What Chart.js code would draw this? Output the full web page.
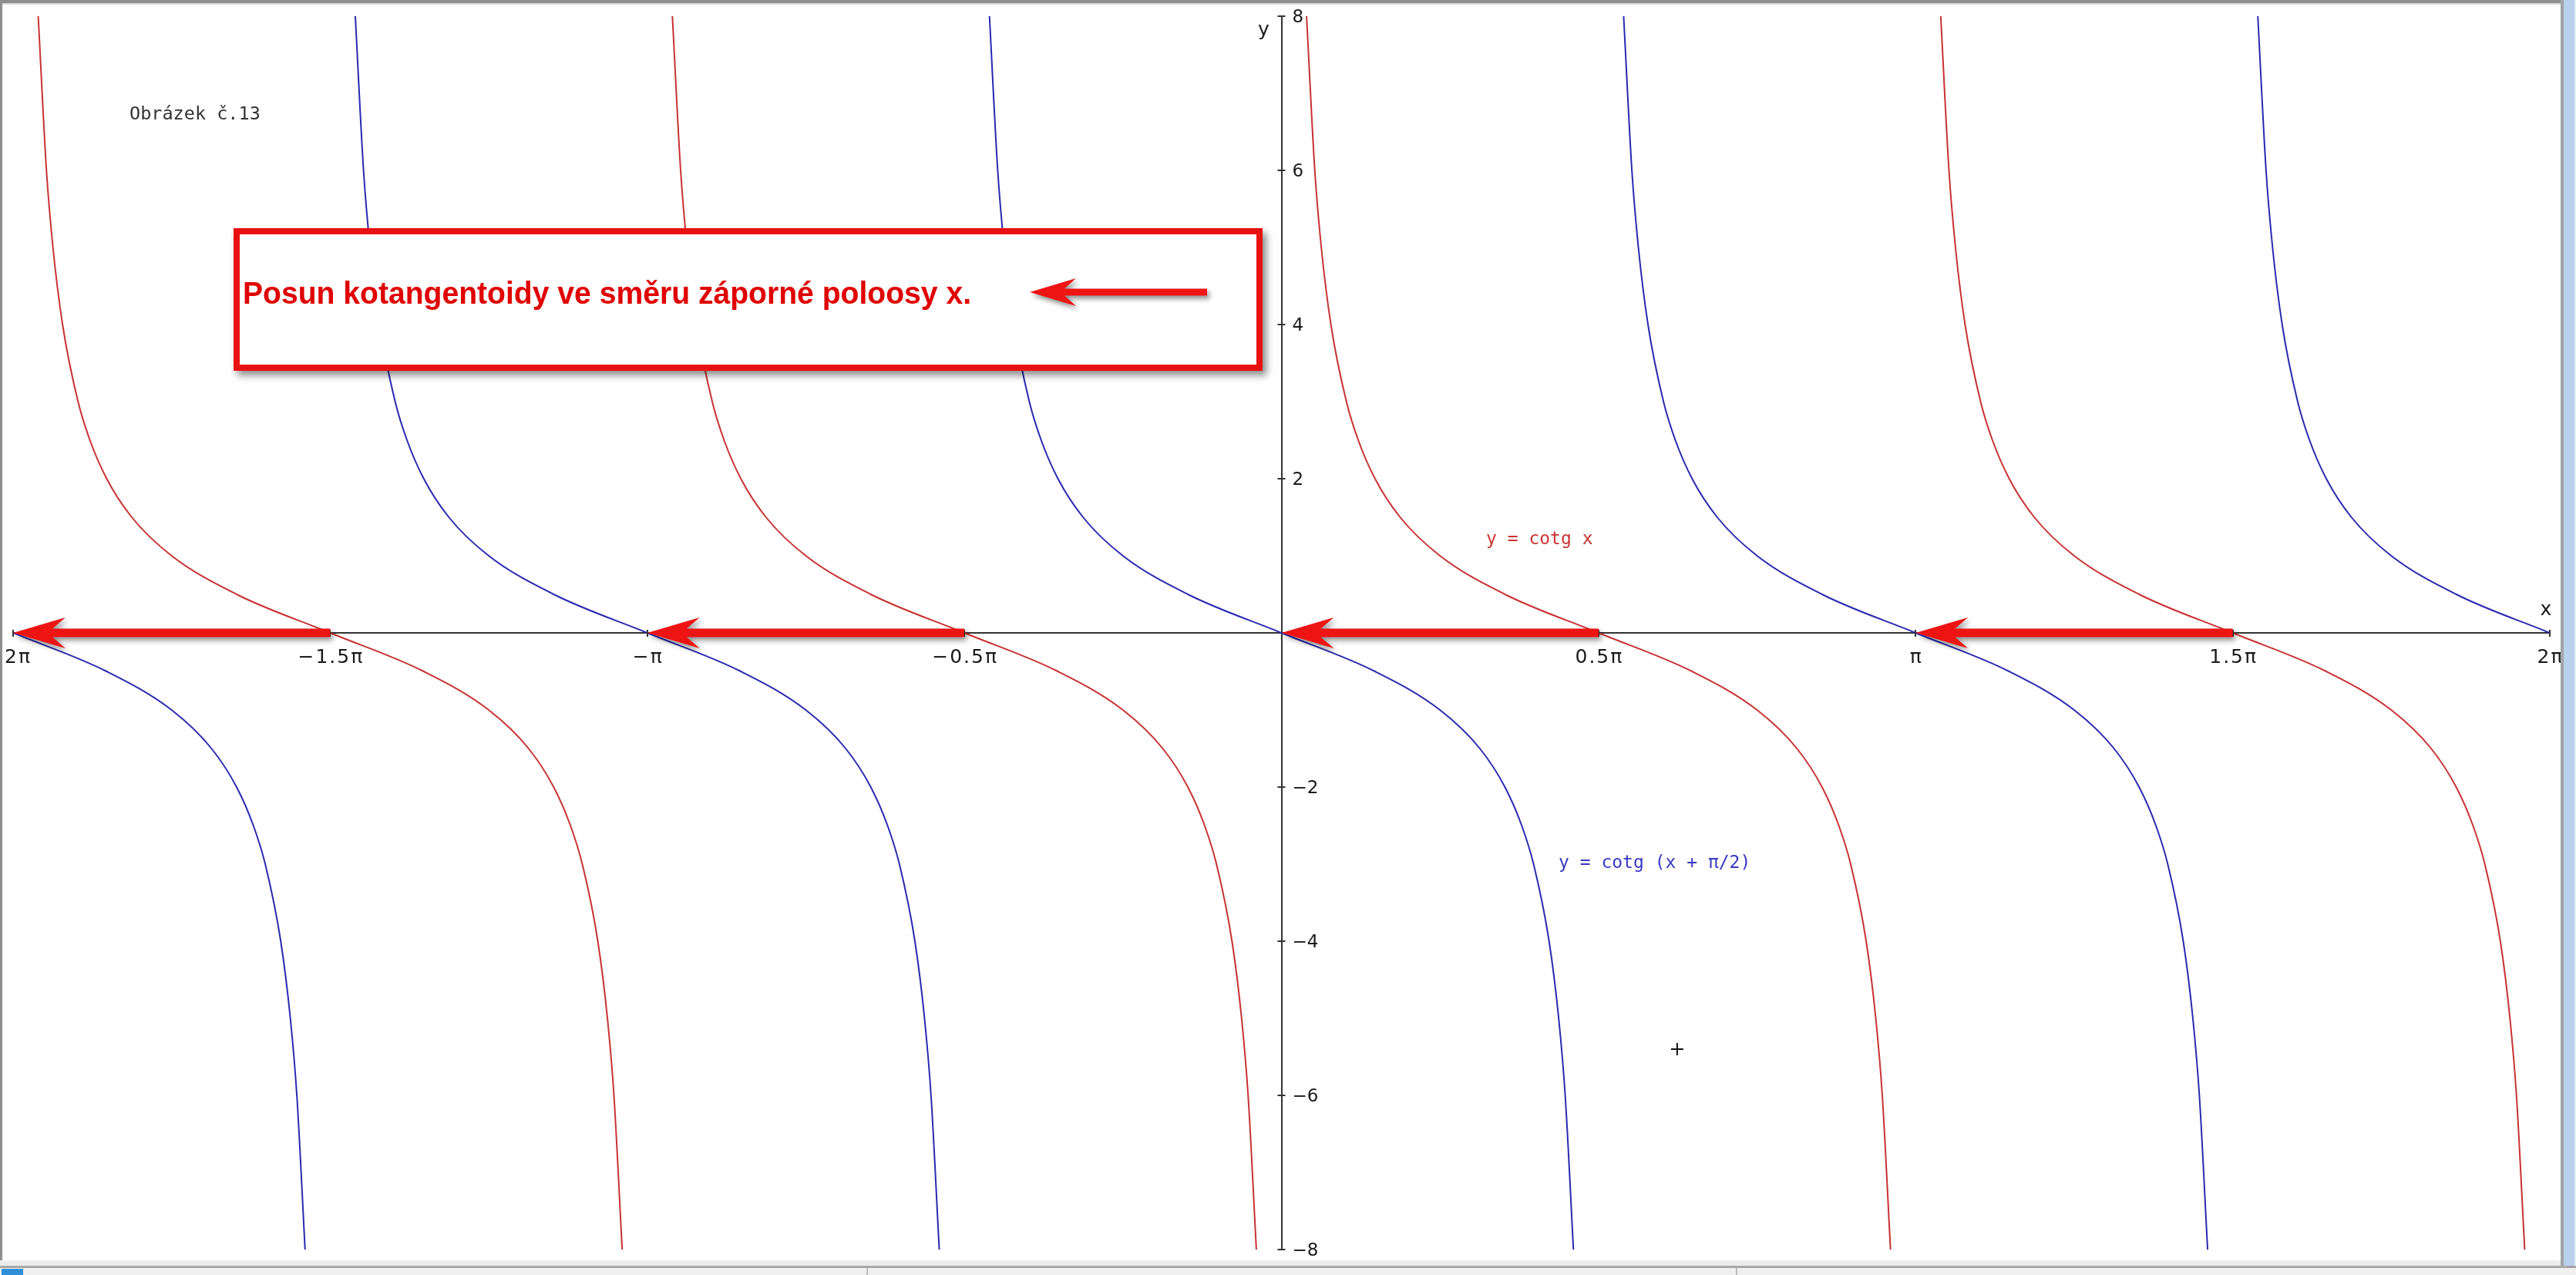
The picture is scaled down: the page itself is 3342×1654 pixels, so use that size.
<!DOCTYPE html>
<html><head><meta charset="utf-8">
<script src="https://cdn.jsdelivr.net/npm/chart.js@4.4.1/dist/chart.umd.min.js"></script>
<style>
html,body{margin:0;padding:0;background:#fff;overflow:hidden;}
#wrap{position:relative;width:3342px;height:1654px;background:#fff;}
#c{position:absolute;left:0;top:0;}
.fr{position:absolute;}
</style></head><body>
<div id="wrap">
<canvas id="c" width="3342" height="1654"></canvas>
<div class="fr" style="left:0;top:0;width:3342px;height:4px;background:#8e8e8e"></div>
<div class="fr" style="left:0;top:4px;width:3322px;height:2px;background:#d8d8d8"></div>
<div class="fr" style="left:0;top:0;width:3px;height:1635px;background:#8e8e8e"></div>
<div class="fr" style="left:3322px;top:0;width:4px;height:1642px;background:#a4a4a4"></div>
<div class="fr" style="left:3326px;top:0;width:14px;height:1642px;background:#b9d1ec"></div>
<div class="fr" style="left:3340px;top:0;width:2px;height:1642px;background:#e2eef8"></div>
<div class="fr" style="left:0;top:1635px;width:3322px;height:7px;background:#ececec"></div>
<div class="fr" style="left:0;top:1642px;width:3342px;height:3px;background:#a8a8a8"></div>
<div class="fr" style="left:0;top:1645px;width:3342px;height:9px;background:#f0f0f0"></div>
<div class="fr" style="left:1124px;top:1645px;width:2px;height:9px;background:#bcbcbc"></div>
<div class="fr" style="left:2252px;top:1645px;width:2px;height:9px;background:#bcbcbc"></div>
<div class="fr" style="left:2px;top:1646px;width:28px;height:8px;background:#2f8fd8"></div>
</div>
<script>
// ---- data (x in multiples of π) ----
const redX = [
 -1.96041,-1.94743,-1.93717,-1.92202,-1.89758,-1.87888,-1.85242,-1.81283,-1.75,-1.64758,-1.5,-1.35242,-1.25,-1.18717,-1.14758,-1.12112,-1.10242,-1.07798,-1.06283,-1.05257,-1.03959,
 -1,
 -0.96041,-0.94743,-0.93717,-0.92202,-0.89758,-0.87888,-0.85242,-0.81283,-0.75,-0.64758,-0.5,-0.35242,-0.25,-0.18717,-0.14758,-0.12112,-0.10242,-0.07798,-0.06283,-0.05257,-0.03959,
 0,
 0.03959,0.05257,0.06283,0.07798,0.10242,0.12112,0.14758,0.18717,0.25,0.35242,0.5,0.64758,0.75,0.81283,0.85242,0.87888,0.89758,0.92202,0.93717,0.94743,0.96041,
 1,
 1.03959,1.05257,1.06283,1.07798,1.10242,1.12112,1.14758,1.18717,1.25,1.35242,1.5,1.64758,1.75,1.81283,1.85242,1.87888,1.89758,1.92202,1.93717,1.94743,1.96041
];
const redY = [
 8,6,5,4,3,2.5,2,1.5,1,0.5,0,-0.5,-1,-1.5,-2,-2.5,-3,-4,-5,-6,-8,
 null,
 8,6,5,4,3,2.5,2,1.5,1,0.5,0,-0.5,-1,-1.5,-2,-2.5,-3,-4,-5,-6,-8,
 null,
 8,6,5,4,3,2.5,2,1.5,1,0.5,0,-0.5,-1,-1.5,-2,-2.5,-3,-4,-5,-6,-8,
 null,
 8,6,5,4,3,2.5,2,1.5,1,0.5,0,-0.5,-1,-1.5,-2,-2.5,-3,-4,-5,-6,-8
];
const blueX = [
 -2,-1.85242,-1.75,-1.68717,-1.64758,-1.62112,-1.60242,-1.57798,-1.56283,-1.55257,-1.53959,
 -1.5,
 -1.46041,-1.44743,-1.43717,-1.42202,-1.39758,-1.37888,-1.35242,-1.31283,-1.25,-1.14758,-1,-0.85242,-0.75,-0.68717,-0.64758,-0.62112,-0.60242,-0.57798,-0.56283,-0.55257,-0.53959,
 -0.5,
 -0.46041,-0.44743,-0.43717,-0.42202,-0.39758,-0.37888,-0.35242,-0.31283,-0.25,-0.14758,0,0.14758,0.25,0.31283,0.35242,0.37888,0.39758,0.42202,0.43717,0.44743,0.46041,
 0.5,
 0.53959,0.55257,0.56283,0.57798,0.60242,0.62112,0.64758,0.68717,0.75,0.85242,1,1.14758,1.25,1.31283,1.35242,1.37888,1.39758,1.42202,1.43717,1.44743,1.46041,
 1.5,
 1.53959,1.55257,1.56283,1.57798,1.60242,1.62112,1.64758,1.68717,1.75,1.85242,2
];
const blueY = [
 0,-0.5,-1,-1.5,-2,-2.5,-3,-4,-5,-6,-8,
 null,
 8,6,5,4,3,2.5,2,1.5,1,0.5,0,-0.5,-1,-1.5,-2,-2.5,-3,-4,-5,-6,-8,
 null,
 8,6,5,4,3,2.5,2,1.5,1,0.5,0,-0.5,-1,-1.5,-2,-2.5,-3,-4,-5,-6,-8,
 null,
 8,6,5,4,3,2.5,2,1.5,1,0.5,0,-0.5,-1,-1.5,-2,-2.5,-3,-4,-5,-6,-8,
 null,
 8,6,5,4,3,2.5,2,1.5,1,0.5,0
];
const markX = [0.624];
const markY = [-5.4];
const xTickValues = [-2,-1.5,-1,-0.5,0.5,1,1.5,2];
const xTickLabels = ['-2π','\u22121.5π','\u2212π','\u22120.5π','0.5π','π','1.5π','2π'];
const yTickValues = [-8,-6,-4,-2,2,4,6,8];
const yTickLabels = ['\u22128','\u22126','\u22124','\u22122','2','4','6','8'];
const shiftFrom = [-1.5,-0.5,0.5,1.5];
const shiftTo = [-2,-1,0,1];
const redLabel = 'y = cotg x';
const blueLabel = 'y = cotg (x + \u03c0/2)';
const figureTitle = 'Obrázek č.13';
const noteText = 'Posun kotangentoidy ve směru záporné poloosy x.';

const toPts = (xs, ys) => xs.map((x, i) => ({x: x, y: ys[i]}));

function arrowLeft(ctx, xTail, xTip, y, shaft, headLen, headHalf) {
  const notch = headLen * 0.75;
  ctx.beginPath();
  ctx.moveTo(xTip, y);
  ctx.lineTo(xTip + headLen, y - headHalf);
  ctx.lineTo(xTip + notch, y - shaft / 2);
  ctx.lineTo(xTail, y - shaft / 2);
  ctx.lineTo(xTail, y + shaft / 2);
  ctx.lineTo(xTip + notch, y + shaft / 2);
  ctx.lineTo(xTip + headLen, y + headHalf);
  ctx.closePath();
  ctx.fill();
}

const overlay = {
  id: 'overlay',
  afterDatasetsDraw(chart) {
    const {ctx, scales: {x, y}} = chart;
    const x0 = x.getPixelForValue(0), y0 = y.getPixelForValue(0);
    ctx.save();
    // tick marks
    ctx.strokeStyle = '#333'; ctx.lineWidth = 2;
    xTickValues.forEach(v => { const px = Math.round(x.getPixelForValue(v)); ctx.beginPath(); ctx.moveTo(px, y0 - 4); ctx.lineTo(px, y0 + 5); ctx.stroke(); });
    yTickValues.forEach(v => { const py = Math.round(y.getPixelForValue(v)); ctx.beginPath(); ctx.moveTo(x0 - 5, py); ctx.lineTo(x0 + 5, py); ctx.stroke(); });
    // tick labels
    ctx.fillStyle = '#1a1a1a';
    ctx.font = '25px "DejaVu Sans"';
    ctx.textAlign = 'center'; ctx.textBaseline = 'alphabetic';
    ctx.letterSpacing = '2px';
    xTickValues.forEach((v, i) => ctx.fillText(xTickLabels[i], x.getPixelForValue(v) + 1, y0 + 39));
    ctx.letterSpacing = '0px';
    ctx.font = '23px "DejaVu Sans"';
    ctx.textAlign = 'left';
    yTickValues.forEach((v, i) => ctx.fillText(yTickLabels[i], x0 + 14, y.getPixelForValue(v) + 8));
    // axis names
    ctx.font = '25px "DejaVu Sans"'; ctx.textAlign = 'center';
    ctx.fillText('y', x0 - 23, y.top + 25);
    ctx.fillText('x', x.right - 5, y0 - 23);
    // figure title
    ctx.textAlign = 'left';
    ctx.font = '23.5px "DejaVu Sans Mono"'; ctx.fillStyle = '#333';
    ctx.fillText(figureTitle, 168, 155);
    // curve labels
    ctx.font = '23px "DejaVu Sans Mono"';
    ctx.fillStyle = '#cc3333';
    ctx.fillText(chart.data.datasets[0].label, x.getPixelForValue(0.3227), y.getPixelForValue(1.15));
    ctx.fillStyle = '#3838c4';
    ctx.fillText(chart.data.datasets[1].label, x.getPixelForValue(0.4370), y.getPixelForValue(-3.05));
    // shift arrows on x axis
    ctx.shadowColor = 'rgba(0,0,0,0.45)'; ctx.shadowBlur = 7; ctx.shadowOffsetX = 3; ctx.shadowOffsetY = 4;
    ctx.fillStyle = '#ee1414';
    shiftFrom.forEach((v, i) => arrowLeft(ctx, x.getPixelForValue(v), x.getPixelForValue(shiftTo[i]), y0, 11, 68, 20));
    // annotation box
    ctx.fillStyle = '#e81010';
    ctx.shadowOffsetX = 5; ctx.shadowOffsetY = 6; ctx.shadowBlur = 9;
    ctx.fillRect(303, 296, 1335, 185);
    ctx.shadowColor = 'transparent';
    ctx.fillStyle = '#fff';
    ctx.fillRect(311, 304, 1319, 169);
    // note text
    ctx.fillStyle = '#e00000';
    ctx.font = 'bold 40px "Liberation Sans"';
    const w = ctx.measureText(noteText).width;
    ctx.save();
    ctx.translate(315, 394);
    ctx.scale(945 / w, 1);
    ctx.fillText(noteText, 0, 0);
    ctx.restore();
    // arrow in box
    ctx.shadowColor = 'rgba(0,0,0,0.45)'; ctx.shadowBlur = 6; ctx.shadowOffsetX = 3; ctx.shadowOffsetY = 4;
    ctx.fillStyle = '#ee1414';
    arrowLeft(ctx, 1566, 1336, 379, 9, 60, 18);
    ctx.restore();
  }
};

new Chart(document.getElementById('c').getContext('2d'), {
  type: 'line',
  data: {
    datasets: [
      {label: redLabel, data: toPts(redX, redY), borderColor: '#c83232', borderWidth: 2, pointRadius: 0, cubicInterpolationMode: 'monotone', spanGaps: false, fill: false},
      {label: blueLabel, data: toPts(blueX, blueY), borderColor: '#2a2ab0', borderWidth: 2, pointRadius: 0, cubicInterpolationMode: 'monotone', spanGaps: false, fill: false},
      {type: 'scatter', label: 'cursor', data: toPts(markX, markY), pointStyle: 'cross', pointRadius: 8, borderColor: '#111', borderWidth: 2, showLine: false}
    ]
  },
  options: {
    responsive: false,
    animation: false,
    events: [],
    layout: {padding: {left: 17, right: 34, top: 21, bottom: 33}},
    plugins: {legend: {display: false}, tooltip: {enabled: false}},
    scales: {
      x: {type: 'linear', min: -2, max: 2, position: {y: 0}, grid: {display: false}, border: {display: true, color: '#333', width: 2}, ticks: {display: false}},
      y: {type: 'linear', min: -8, max: 8, position: {x: 0}, grid: {display: false}, border: {display: true, color: '#333', width: 2}, ticks: {display: false}}
    }
  },
  plugins: [overlay]
});
</script>
</body></html>
